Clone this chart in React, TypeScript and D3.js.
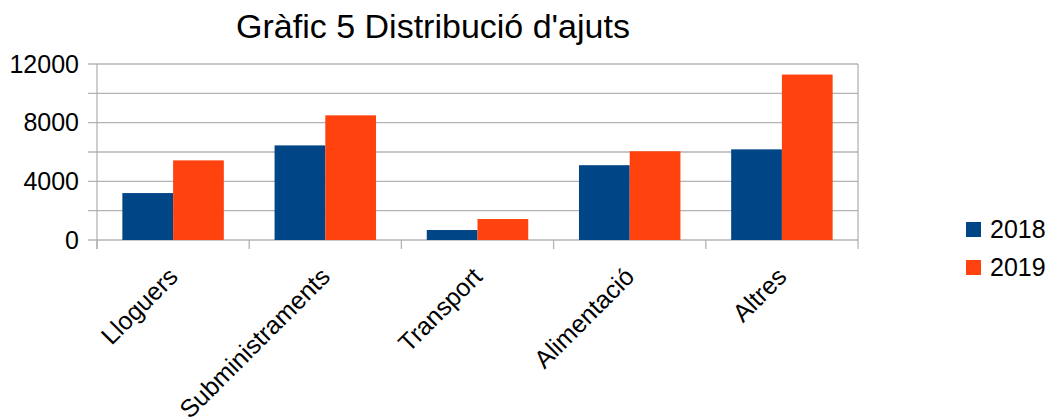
import React from "react";
import { scaleBand, scaleLinear, range } from "d3";

const categories = ["Lloguers", "Subministraments", "Transport", "Alimentació", "Altres"];
const years = ["2018", "2019"];
const values2018 = [3200, 6450, 680, 5100, 6180];
const values2019 = [5430, 8500, 1430, 6050, 11280];
const colors = ["#004586", "#ff420e"];
const yLabelTicks = [0, 4000, 8000, 12000];

const App = () => {
  const width = 1055;
  const height = 420;
  const left = 97;
  const right = 858;
  const top = 64;
  const bottom = 240;
  const font = "'Liberation Sans', Arial, sans-serif";

  const x = scaleBand<string>().domain(categories).range([left, right]).paddingInner(0).paddingOuter(0);
  const inner = scaleBand<string>().domain(years).range([0, x.bandwidth()]).paddingInner(0).paddingOuter(0.5);
  const y = scaleLinear().domain([0, 12000]).range([bottom, top]);
  const grid = range(0, 12001, 2000);
  const series = [values2018, values2019];

  return (
    <svg width={width} height={height} style={{ position: "absolute", left: 0, top: 0 }} fontFamily={font}>
      <rect width={width} height={height} fill="#fff" />
      <text x={433} y={38} fontSize={34} textAnchor="middle" fill="#000">
        Gràfic 5 Distribució d'ajuts
      </text>
      {grid.map((g) => (
        <line key={g} x1={left - 9} x2={right} y1={y(g)} y2={y(g)} stroke="#b3b3b3" strokeWidth={1.3} />
      ))}
      <line x1={left} x2={left} y1={top} y2={bottom + 9} stroke="#b3b3b3" strokeWidth={1.3} />
      <line x1={right} x2={right} y1={top} y2={bottom + 9} stroke="#b3b3b3" strokeWidth={1.3} />
      {categories.map((c) => (
        <line key={c} x1={x(c)!} x2={x(c)!} y1={bottom} y2={bottom + 9} stroke="#b3b3b3" strokeWidth={1.3} />
      ))}
      {yLabelTicks.map((t) => (
        <text key={t} x={79} y={y(t)} dy="0.35em" fontSize={25} textAnchor="end" fill="#000">
          {t}
        </text>
      ))}
      {categories.map((c, i) =>
        series.map((s, j) => (
          <rect
            key={c + j}
            x={x(c)! + inner(years[j])!}
            y={y(s[i])}
            width={inner.bandwidth()}
            height={bottom - y(s[i])}
            fill={colors[j]}
          />
        ))
      )}
      {categories.map((c) => {
        const cx = x(c)! + x.bandwidth() / 2 - 7;
        return (
          <text
            key={c}
            fontSize={25}
            textAnchor="end"
            fill="#000"
            transform={`translate(${cx},${265}) rotate(-45)`}
            dy="0.75em"
          >
            {c}
          </text>
        );
      })}
      {years.map((yr, j) => (
        <g key={yr} transform={`translate(966,${222 + j * 38})`}>
          <rect width={15} height={15} fill={colors[j]} />
          <text x={24} y={7.5} dy="0.35em" fontSize={25} fill="#000">
            {yr}
          </text>
        </g>
      ))}
    </svg>
  );
};

export default App;
